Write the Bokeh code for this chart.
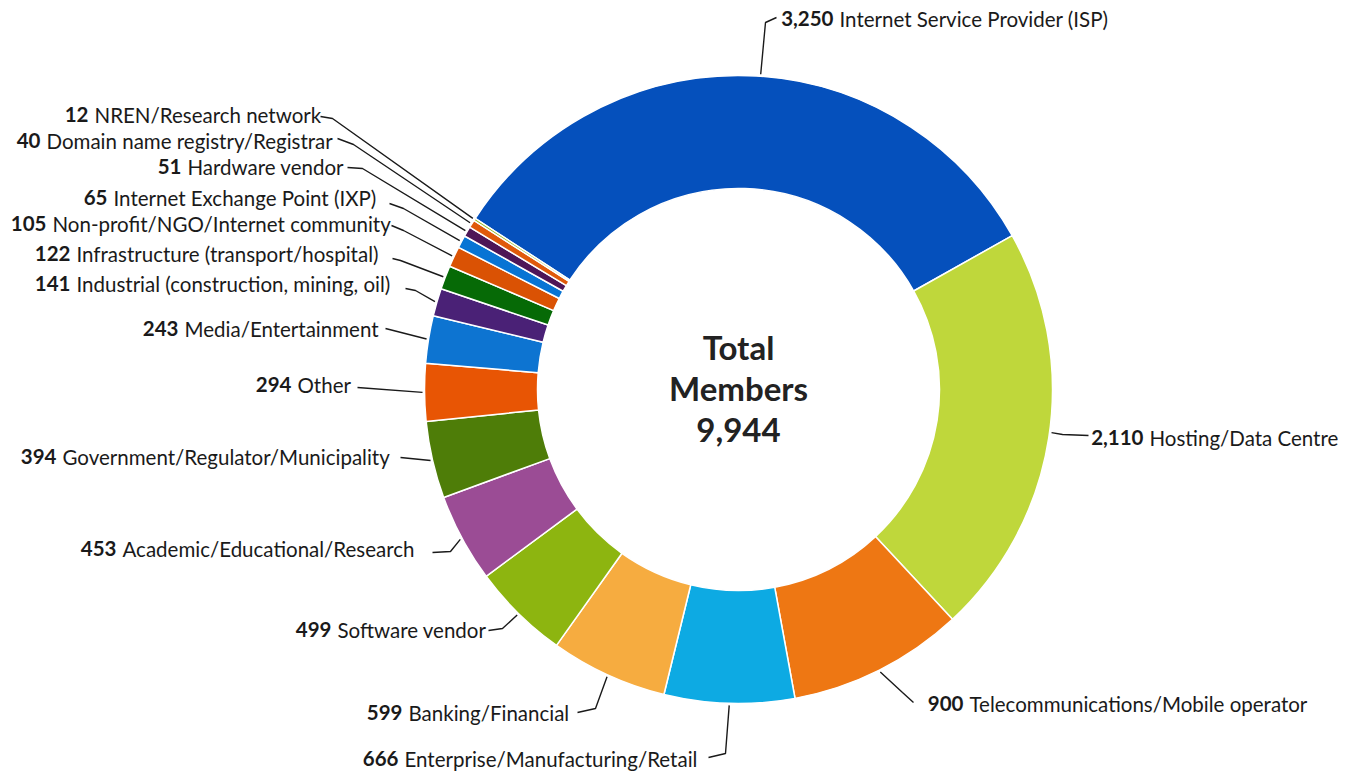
import math
from bokeh.plotting import figure
from bokeh.models import Range1d, ColumnDataSource
from bokeh.core.properties import value
from bokeh.embed import file_html
from bokeh.resources import INLINE

# ---------------- data ----------------
categories = [
    "Internet Service Provider (ISP)",
    "Hosting/Data Centre",
    "Telecommunications/Mobile operator",
    "Enterprise/Manufacturing/Retail",
    "Banking/Financial",
    "Software vendor",
    "Academic/Educational/Research",
    "Government/Regulator/Municipality",
    "Other",
    "Media/Entertainment",
    "Industrial (construction, mining, oil)",
    "Infrastructure (transport/hospital)",
    "Non-profit/NGO/Internet community",
    "Internet Exchange Point (IXP)",
    "Hardware vendor",
    "Domain name registry/Registrar",
    "NREN/Research network",
]
members = [3250, 2110, 900, 666, 599, 499, 453, 394, 294, 243, 141, 122, 105, 65, 51, 40, 12]

# ---------------- styles ----------------
colors = ["#0550BC", "#BFD73B", "#EE7713", "#0DAAE3", "#F6AC40", "#8DB510", "#9B4C95",
          "#4E7D08", "#E85504", "#0D74D1", "#4A2176", "#066A06", "#DA5204", "#0874D4",
          "#4E1657", "#E05A0A", "#8DB510"]

W, H = 1348, 773
def X(px):  # reference pixel -> data
    return px
def Y(py):
    return H - py

CX, CY = X(738), Y(389)
R_OUT, R_IN = 314, 201
START_DEG = 147.0

# label layout (reference pixel coords)
name_x = [839, 1149, 969, 404, 408, 337, 122, 62, 297, 184, 76, 76, 52, 113, 187, 46, 94]
lab_y  = [18, 437, 703, 758, 712, 629, 548, 456, 384, 328, 283, 253, 223, 197, 166, 140, 114]
attach_off = [-2.2, 1.0, 0, 0, 0, 0, 0, 0, 0, 0, 0, 0, 0, 0, 0, 0, 0]  # degrees
elbow  = [(765, 22), (1062, 434), (902, 692), (725, 753), (595, 708), (502, 628), (450, 551),
          (400, 457), (357, 387), (385, 328), (415, 290), (400, 260), (403, 230), (403, 208),
          (362, 168), (353, 144), (332, 118)]
lend   = [(776, 17), (1088, 435), (913, 702), (708, 757), (577, 712), (488, 630), (432, 552),
          (400, 457), (357, 387), (385, 328), (405, 288), (392, 258), (391, 225), (389, 203),
          (347, 167), (337, 138), (320, 116)]

total = sum(members)
cum = [0]
for v in members:
    cum.append(cum[-1] + v)
starts = [math.radians(START_DEG - c / total * 360) for c in cum[:-1]]
ends = [math.radians(START_DEG - c / total * 360) for c in cum[1:]]
mids = [(s + e) / 2 + math.radians(o) for s, e, o in zip(starts, ends, attach_off)]

p = figure(width=W, height=H, x_range=Range1d(0, W), y_range=Range1d(0, H),
           output_backend="svg", toolbar_location=None, min_border=0)
p.axis.visible = False
p.grid.visible = False
p.outline_line_color = None
p.background_fill_color = "white"
p.border_fill_color = "white"

src = ColumnDataSource(dict(start=starts, end=ends, color=colors, cat=categories, v=members))
p.annular_wedge(x=CX, y=CY, inner_radius=R_IN, outer_radius=R_OUT,
                start_angle="start", end_angle="end",
                direction="clock", fill_color="color", line_color="white",
                line_width=1.5, source=src)

# leader lines
xs, ys = [], []
for a, (ex, ey), (lx, ly) in zip(mids, elbow, lend):
    sx = CX + (R_OUT + 2) * math.cos(a)
    sy = CY + (R_OUT + 2) * math.sin(a)
    xs.append([sx, X(ex), X(lx)])
    ys.append([sy, Y(ey), Y(ly)])
p.multi_line(xs, ys, line_color="#1a1a1a", line_width=1.4)

FONT = value("Lato")
num_src = ColumnDataSource(dict(x=[X(v) - 6 for v in name_x], y=[Y(v) for v in lab_y],
                                t=[f"{v:,}" for v in members]))
name_src = ColumnDataSource(dict(x=[X(v) for v in name_x], y=[Y(v) for v in lab_y],
                                 t=categories))
p.text(x="x", y="y", text="t", source=num_src, text_font=FONT, text_font_size="20.5px",
       text_font_style="bold", text_align="right", text_baseline="middle", text_color="#1a1a1a")
p.text(x="x", y="y", text="t", source=name_src, text_font=FONT, text_font_size="20.5px",
       text_align="left", text_baseline="middle", text_color="#1a1a1a")

# centre text
p.text(x=[CX, CX, CX], y=[Y(346), Y(387), Y(429)], text=["Total", "Members", f"{total:,}"],
       text_font=FONT, text_font_size="33px", text_font_style="bold",
       text_align="center", text_baseline="middle", text_color="#222222")

open("out.html", "w").write(file_html(p, INLINE))
